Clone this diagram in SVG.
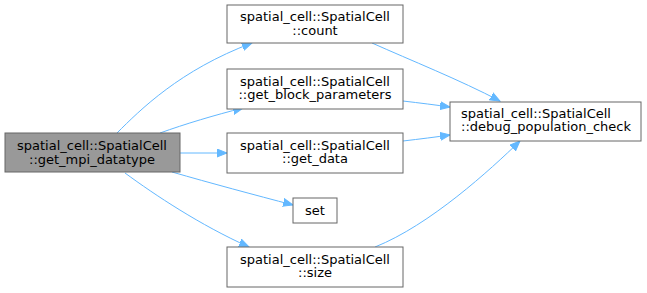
<svg xmlns="http://www.w3.org/2000/svg" width="647" height="293" viewBox="0 0 647 293">
<style>
.n rect{fill:#fff;stroke:#666;stroke-width:1}
.m rect{fill:#999;stroke:#666;stroke-width:1}
text{font-family:"DejaVu Sans",sans-serif;font-size:13px;text-anchor:middle;fill:#000}
text.l{text-anchor:start}
.e path{fill:none;stroke:#63b8ff;stroke-width:1}
</style>
<defs>
<marker id="a" markerWidth="11" markerHeight="9" refX="10" refY="4.5" orient="auto" markerUnits="userSpaceOnUse">
<path d="M0,0.5 L10,4.5 L0,8.5 Z" fill="#63b8ff" stroke="#63b8ff"/>
</marker>
</defs>
<rect width="647" height="293" fill="#fff"/>
<g class="e">
<path d="M117,133 C140,110 180,70 252,43" marker-end="url(#a)"/>
<path d="M160,133 C185,124 215,115 243,108" marker-end="url(#a)"/>
<path d="M180,153 L227,153" marker-end="url(#a)"/>
<path d="M172,172 C210,183 255,195 293,205" marker-end="url(#a)"/>
<path d="M125,173 C155,195 200,225 249,247" marker-end="url(#a)"/>
<path d="M372,43 C410,60 460,80 500,101" marker-end="url(#a)"/>
<path d="M403,101 C420,103 436,105 450,107" marker-end="url(#a)"/>
<path d="M403,141 C420,139 436,137 450,135" marker-end="url(#a)"/>
<path d="M375,247 C430,225 490,170 520,141" marker-end="url(#a)"/>
</g>
<g id="main" class="m"><rect x="5" y="133" width="175" height="39"/><text x="92" y="150">spatial_cell::SpatialCell</text><text x="92" y="163.5">::get_mpi_datatype</text></g>
<g id="count" class="n"><rect x="227" y="5" width="176" height="38"/><text x="315" y="21.3">spatial_cell::SpatialCell</text><text x="315" y="34.8">::count</text></g>
<g id="gbp" class="n"><rect x="227" y="69" width="176" height="40"/><text x="315" y="85.5">spatial_cell::SpatialCell</text><text x="315" y="99">::get_block_parameters</text></g>
<g id="getdata" class="n"><rect x="227" y="133" width="176" height="40"/><text x="315" y="149.5">spatial_cell::SpatialCell</text><text x="315" y="163">::get_data</text></g>
<g id="set" class="n"><rect x="293" y="198" width="44" height="25"/><text x="315" y="215">set</text></g>
<g id="size" class="n"><rect x="227" y="247" width="176" height="40"/><text x="315" y="263.5">spatial_cell::SpatialCell</text><text x="315" y="277">::size</text></g>
<g id="debug" class="n"><rect x="450" y="102" width="191" height="39"/><text class="l" x="461" y="117.5">spatial_cell::SpatialCell</text><text class="l" x="461" y="131">::debug_population_check</text></g>
</svg>
